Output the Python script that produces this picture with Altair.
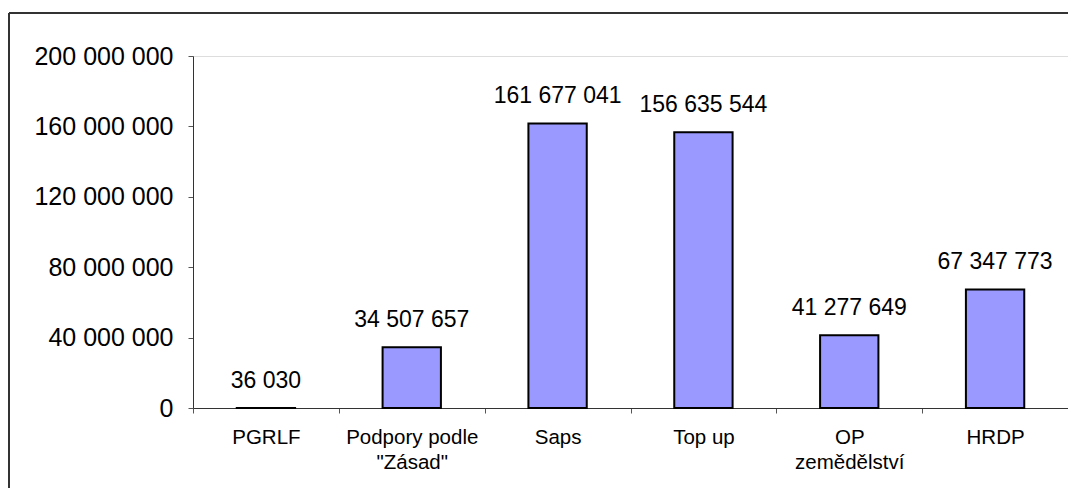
import altair as alt
import pandas as pd

categories = ["PGRLF", "Podpory podle|\"Zásad\"", "Saps", "Top up", "OP|zemědělství", "HRDP"]
values = [36030, 34507657, 161677041, 156635544, 41277649, 67347773]
y_ticks = [0, 40000000, 80000000, 120000000, 160000000, 200000000]

df = pd.DataFrame({"cat": categories, "val": values})
frame = pd.DataFrame({"k": [0]})

FONT = "Liberation Sans"
W, H = 875, 352

x_enc = alt.X(
    "cat:N",
    sort=categories,
    scale=alt.Scale(paddingInner=0, paddingOuter=0),
    axis=alt.Axis(
        title=None,
        labelAngle=0,
        tickBand="extent",
        tickSize=5,
        tickColor="#555555",
        domainColor="#333333",
        labelFont=FONT,
        labelFontSize=20.5,
        labelColor="#000000",
        labelPadding=14,
        labelLineHeight=25,
        labelBaseline="top",
        labelExpr="split(datum.label, '|')",
        grid=False,
    ),
)

y_enc = alt.Y(
    "val:Q",
    scale=alt.Scale(domain=[0, 200000000], nice=False),
    axis=alt.Axis(
        title=None,
        values=y_ticks,
        format=",d",
        tickSize=5,
        tickColor="#555555",
        domainColor="#333333",
        labelFont=FONT,
        labelFontSize=25,
        labelColor="#000000",
        labelPadding=15,
        grid=False,
    ),
)

base = alt.Chart(df)

bars = base.mark_bar(
    fill="#9999FF", stroke="#000000", strokeWidth=2, width=alt.RelativeBandSize(0.4)
).encode(x=x_enc, y=y_enc)

labels = base.mark_text(
    font=FONT, fontSize=23, color="#000000", baseline="alphabetic", dy=-20
).encode(x=alt.X("cat:N", sort=categories), y=alt.Y("val:Q"), text=alt.Text("val:Q", format=",d"))

top_line = alt.Chart(frame).mark_rule(color="#333333", strokeWidth=2).encode(
    x=alt.value(-184), x2=alt.value(W + 10), y=alt.value(-43)
)
left_line = alt.Chart(frame).mark_rule(color="#333333", strokeWidth=2).encode(
    x=alt.value(-184), y=alt.value(-43), y2=alt.value(H + 100)
)

chart = (
    alt.layer(bars, labels, top_line, left_line)
    .properties(
        width=W,
        height=H,
        autosize=alt.AutoSizeParams(type="none"),
        padding={"left": 185, "top": 48, "right": 0, "bottom": 80},
        background="#ffffff",
    )
    .configure_view(strokeWidth=0)
    .configure(
        locale=alt.Locale(
            number=alt.NumberLocale(decimal=",", thousands=" ", grouping=[3], currency=["", ""])
        )
    )
)

chart.save("out.html", embed_options={"renderer": "svg", "actions": False})
